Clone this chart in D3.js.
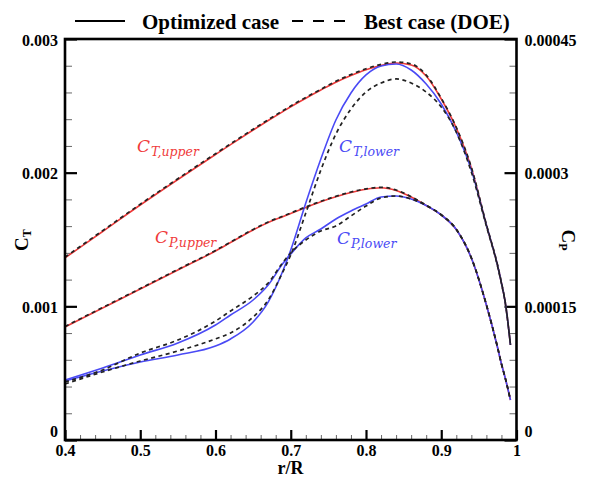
<!DOCTYPE html>
<html>
<head>
<meta charset="utf-8">
<script src="https://cdn.jsdelivr.net/npm/d3@7/dist/d3.min.js"></script>
<style>
  html, body { margin: 0; padding: 0; background: #fff; }
  svg { display: block; }
  .tick text { font-family: "Liberation Serif", "Times New Roman", serif; font-weight: bold; font-size: 16px; fill: #000; }
</style>
</head>
<body>
<svg id="chart" width="591" height="479"></svg>
<script>
// Radial station r/R shared by every series
const rR = [0.40, 0.45, 0.50, 0.55, 0.60, 0.62, 0.65, 0.67, 0.69, 0.70, 0.72, 0.74, 0.76, 0.78,
            0.80, 0.82, 0.84, 0.86, 0.88, 0.90, 0.92, 0.94, 0.96, 0.975, 0.98, 0.985, 0.992];

// Thrust coefficient, upper / lower rotor
const ctUpperOpt = [0.001362, 0.001560, 0.001758, 0.001949, 0.002136, 0.002210, 0.002319, 0.002390, 0.002459, 0.002493,
                    0.002557, 0.002618, 0.002677, 0.002727, 0.002770, 0.002802, 0.002820, 0.002806, 0.002723, 0.002551,
                    0.002334, 0.002035, 0.001608, 0.001302, 0.001175, 0.001032, 0.000711];
const ctUpperDoe = [0.001368, 0.001566, 0.001764, 0.001955, 0.002142, 0.002216, 0.002325, 0.002396, 0.002465, 0.002499,
                    0.002563, 0.002624, 0.002684, 0.002734, 0.002777, 0.002810, 0.002828, 0.002814, 0.002730, 0.002557,
                    0.002339, 0.002040, 0.001612, 0.001305, 0.001177, 0.001034, 0.000711];
const ctLowerOpt = [0.000441, 0.000516, 0.000584, 0.000636, 0.000703, 0.000756, 0.000883, 0.001032, 0.001272, 0.001421,
                    0.001773, 0.002102, 0.002394, 0.002596, 0.002731, 0.002798, 0.002813, 0.002768, 0.002663, 0.002514,
                    0.002304, 0.002020, 0.001608, 0.001302, 0.001175, 0.001032, 0.000711];
const ctLowerDoe = [0.000419, 0.000509, 0.000591, 0.000666, 0.000756, 0.000801, 0.000920, 0.001047, 0.001264, 0.001384,
                    0.001698, 0.002020, 0.002289, 0.002476, 0.002603, 0.002671, 0.002701, 0.002671, 0.002603, 0.002491,
                    0.002304, 0.002005, 0.001600, 0.001296, 0.001170, 0.001028, 0.000711];

// Power coefficient, upper / lower rotor
const cpUpperOpt = [0.0001268, 0.0001481, 0.0001694, 0.0001908, 0.0002121, 0.0002216, 0.0002357, 0.0002441, 0.0002508, 0.0002542,
                    0.0002609, 0.0002673, 0.0002729, 0.0002777, 0.0002813, 0.0002830, 0.0002800, 0.0002727, 0.0002632, 0.0002525,
                    0.0002362, 0.0002042, 0.0001515, 0.0001032, 0.0000853, 0.0000696, 0.0000449];
const cpUpperDoe = [0.0001274, 0.0001487, 0.0001700, 0.0001914, 0.0002127, 0.0002222, 0.0002363, 0.0002447, 0.0002514, 0.0002548,
                    0.0002615, 0.0002679, 0.0002735, 0.0002783, 0.0002819, 0.0002836, 0.0002805, 0.0002731, 0.0002635, 0.0002528,
                    0.0002365, 0.0002045, 0.0001518, 0.0001034, 0.0000855, 0.0000698, 0.0000449];
const cpLowerOpt = [0.0000673, 0.0000808, 0.0000954, 0.0001089, 0.0001291, 0.0001403, 0.0001571, 0.0001739, 0.0001986, 0.0002087,
                    0.0002267, 0.0002368, 0.0002480, 0.0002570, 0.0002648, 0.0002727, 0.0002738, 0.0002705, 0.0002632, 0.0002525,
                    0.0002362, 0.0002042, 0.0001515, 0.0001032, 0.0000853, 0.0000696, 0.0000449];
const cpLowerDoe = [0.0000651, 0.0000786, 0.0000976, 0.0001122, 0.0001335, 0.0001448, 0.0001616, 0.0001762, 0.0001998, 0.0002099,
                    0.0002244, 0.0002345, 0.0002402, 0.0002514, 0.0002626, 0.0002716, 0.0002738, 0.0002705, 0.0002632, 0.0002525,
                    0.0002362, 0.0002042, 0.0001515, 0.0001032, 0.0000853, 0.0000696, 0.0000449];

// Axis ticks and their labels
const xTicks = [0.4, 0.5, 0.6, 0.7, 0.8, 0.9, 1.0];
const xTickLabels = ["0.4", "0.5", "0.6", "0.7", "0.8", "0.9", "1"];
const ctTicks = [0, 0.001, 0.002, 0.003];
const ctTickLabels = ["0", "0.001", "0.002", "0.003"];
const cpTicks = [0, 0.00015, 0.0003, 0.00045];
const cpTickLabels = ["0", "0.00015", "0.0003", "0.00045"];

const legendLabels = ["Optimized case", "Best case (DOE)"];

const svg = d3.select("#chart");
const L = 65, R = 516.5, T = 39, B = 440;

const x = d3.scaleLinear().domain([0.4, 1.0]).range([L, R]);
const yT = d3.scaleLinear().domain([0, 0.003]).range([B, T]);
const yP = d3.scaleLinear().domain([0, 0.00045]).range([B, T]);

const red = "#f03a3a", blue = "#4a4af5";

svg.append("defs").append("clipPath").attr("id", "plot")
  .append("rect").attr("x", L).attr("y", T).attr("width", R - L).attr("height", B - T);

// ---- axes (ticks point into the frame) ----
const minorX = d3.range(0.42, 1.0, 0.02).filter(v => Math.abs(v * 10 - Math.round(v * 10)) > 1e-6);
const minorT = d3.range(0.0002, 0.003, 0.0002).filter(v => Math.abs(v * 1000 - Math.round(v * 1000)) > 1e-6);
const minorP = d3.range(0.00003, 0.00045, 0.00003).filter(v => Math.abs(v / 0.00015 - Math.round(v / 0.00015)) > 1e-6);

function styleAxis(g, major) {
  g.select(".domain").remove();
  g.selectAll(".tick line").attr("stroke", "#000").attr("stroke-width", major ? 2.2 : 1).attr("opacity", major ? 1 : 0.6);
}

// bottom
svg.append("g").attr("transform", `translate(0,${B})`)
  .call(d3.axisBottom(x).tickValues(minorX).tickFormat("").tickSizeInner(-5).tickSizeOuter(0))
  .call(g => styleAxis(g, false));
svg.append("g").attr("transform", `translate(0,${B})`)
  .call(d3.axisBottom(x).tickValues(xTicks).tickFormat((d, i) => xTickLabels[i]).tickSizeInner(-10).tickSizeOuter(0).tickPadding(5))
  .call(g => styleAxis(g, true));

// left (C_T)
svg.append("g").attr("transform", `translate(${L},0)`)
  .call(d3.axisLeft(yT).tickValues(minorT).tickFormat("").tickSizeInner(-7).tickSizeOuter(0))
  .call(g => styleAxis(g, false));
svg.append("g").attr("transform", `translate(${L},0)`)
  .call(d3.axisLeft(yT).tickValues(ctTicks).tickFormat((d, i) => ctTickLabels[i]).tickSizeInner(-12).tickSizeOuter(0).tickPadding(7))
  .call(g => styleAxis(g, true))
  .call(g => g.selectAll(".tick text").attr("dy", (d) => d === 0 ? "-0.2em" : "0.38em"));

// right (C_P)
svg.append("g").attr("transform", `translate(${R},0)`)
  .call(d3.axisRight(yP).tickValues(minorP).tickFormat("").tickSizeInner(-7).tickSizeOuter(0))
  .call(g => styleAxis(g, false));
svg.append("g").attr("transform", `translate(${R},0)`)
  .call(d3.axisRight(yP).tickValues(cpTicks).tickFormat((d, i) => cpTickLabels[i]).tickSizeInner(-12).tickSizeOuter(0).tickPadding(8))
  .call(g => styleAxis(g, true))
  .call(g => g.selectAll(".tick text").attr("dy", (d) => d === 0 ? "-0.2em" : "0.38em"));

// ---- curves ----
const lineT = d3.line().x((d, i) => x(rR[i])).y(d => yT(d)).curve(d3.curveMonotoneX);
const lineP = d3.line().x((d, i) => x(rR[i])).y(d => yP(d)).curve(d3.curveMonotoneX);

const plot = svg.append("g").attr("clip-path", "url(#plot)");
const solid = [
  { data: ctUpperOpt, line: lineT, color: red },
  { data: cpUpperOpt, line: lineP, color: red },
  { data: ctLowerOpt, line: lineT, color: blue },
  { data: cpLowerOpt, line: lineP, color: blue }
];
const dashed = [
  { data: ctUpperDoe, line: lineT },
  { data: cpUpperDoe, line: lineP },
  { data: ctLowerDoe, line: lineT },
  { data: cpLowerDoe, line: lineP }
];
solid.forEach(s => plot.append("path").attr("d", s.line(s.data))
  .attr("fill", "none").attr("stroke", s.color).attr("stroke-width", 1.6));
dashed.forEach(s => plot.append("path").attr("d", s.line(s.data))
  .attr("fill", "none").attr("stroke", "#222").attr("stroke-width", 1.7).attr("stroke-dasharray", "4,3.5"));

// frame
svg.append("rect").attr("x", L).attr("y", T).attr("width", R - L).attr("height", B - T)
  .attr("fill", "none").attr("stroke", "#000").attr("stroke-width", 2.6);

// ---- curve labels ----
function curveLabel(px, py, sub, color) {
  const t = svg.append("text").attr("x", px).attr("y", py).attr("fill", color)
    .style("font-family", "'DejaVu Serif', serif").style("font-style", "italic");
  t.append("tspan").style("font-size", "17px").text("C");
  t.append("tspan").attr("dy", 4).attr("dx", 1).style("font-size", "12.5px").text(sub);
}
curveLabel(137, 152, "T,upper", red);
curveLabel(155, 243, "P,upper", red);
curveLabel(339, 152, "T,lower", blue);
curveLabel(337, 244, "P,lower", blue);

// ---- axis titles ----
const serifBold = "'Liberation Serif', 'Times New Roman', serif";
svg.append("text").attr("x", 290.5).attr("y", 474).attr("text-anchor", "middle")
  .style("font-family", serifBold).style("font-weight", "bold").style("font-size", "18px").text("r/R");

const tTitle = svg.append("text").attr("transform", "translate(28,240) rotate(-90)").attr("text-anchor", "middle")
  .style("font-family", serifBold).style("font-weight", "bold");
tTitle.append("tspan").style("font-size", "19px").text("C");
tTitle.append("tspan").attr("dy", 3).style("font-size", "12px").text("T");

const pTitle = svg.append("text").attr("transform", "translate(562,240) rotate(90)").attr("text-anchor", "middle")
  .style("font-family", serifBold).style("font-weight", "bold");
pTitle.append("tspan").style("font-size", "19px").text("C");
pTitle.append("tspan").attr("dy", 3).style("font-size", "12px").text("P");

// ---- legend ----
const lg = svg.append("g");
lg.append("line").attr("x1", 75).attr("x2", 125).attr("y1", 21).attr("y2", 21)
  .attr("stroke", "#000").attr("stroke-width", 2);
lg.append("text").attr("x", 142).attr("y", 29).text(legendLabels[0])
  .style("font-family", serifBold).style("font-weight", "bold").style("font-size", "21px");
lg.append("line").attr("x1", 292).attr("x2", 345).attr("y1", 21).attr("y2", 21)
  .attr("stroke", "#000").attr("stroke-width", 2).attr("stroke-dasharray", "11,10");
lg.append("text").attr("x", 364).attr("y", 29).text(legendLabels[1])
  .style("font-family", serifBold).style("font-weight", "bold").style("font-size", "21px");
</script>
</body>
</html>
